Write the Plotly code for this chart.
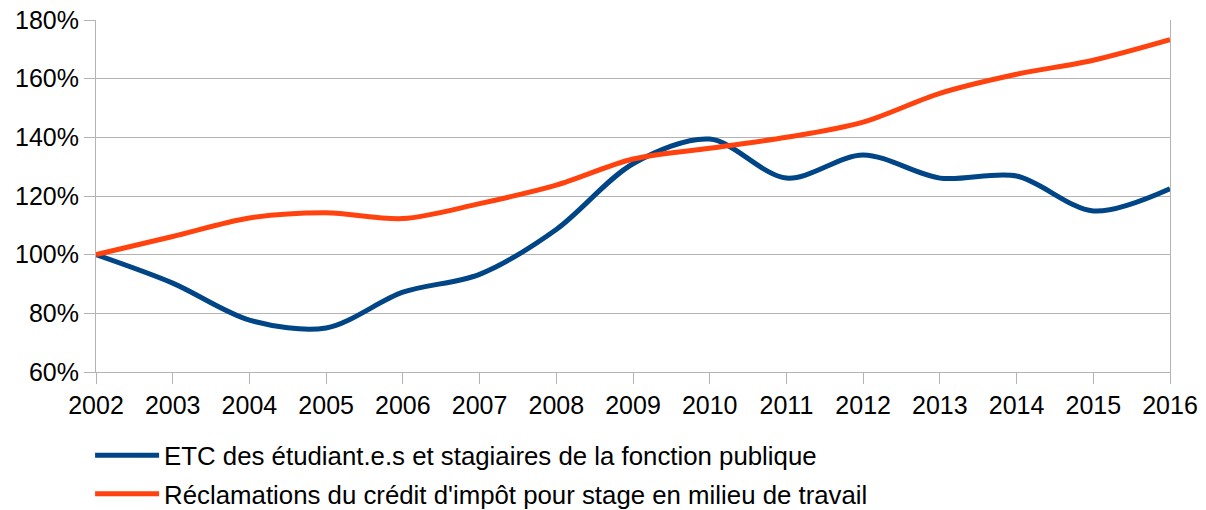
import plotly.graph_objects as go

years = list(range(2002, 2017))
etc_values = [100, 90.3, 77.7, 75.0, 87.2, 93.3, 108.6, 131.0, 139.4, 126.1, 134.0, 126.1, 126.8, 114.9, 122.5]
credit_values = [100, 106.2, 112.5, 114.3, 112.3, 117.4, 123.7, 132.6, 136.3, 140.0, 145.2, 155.0, 161.5, 166.3, 173.3]
etc_name = "ETC des étudiant.e.s et stagiaires de la fonction publique"
credit_name = "Réclamations du crédit d'impôt pour stage en milieu de travail"
y_ticks = [60, 80, 100, 120, 140, 160, 180]

fig = go.Figure()
fig.add_trace(go.Scatter(x=years, y=etc_values, name=etc_name, mode="lines", legendgroup="g1",
                         line=dict(color="#004586", width=5, shape="spline", smoothing=0.9)))
fig.add_trace(go.Scatter(x=years, y=credit_values, name=credit_name, mode="lines", legendgroup="g2",
                         line=dict(color="#ff420e", width=5, shape="spline", smoothing=0.9)))

grid = "#b3b3b3"
fig.update_layout(
    width=1206, height=510,
    margin=dict(l=96, r=36, t=20, b=138, autoexpand=False),
    plot_bgcolor="white", paper_bgcolor="white",
    font=dict(family="Liberation Sans, Arial, sans-serif", size=25, color="#000000"),
    showlegend=True,
    legend=dict(x=-0.0055, xanchor="left", y=-0.1705, yanchor="top", orientation="v",
                font=dict(family="Liberation Sans, sans-serif", size=25.8),
                itemwidth=64, tracegroupgap=2, bgcolor="rgba(0,0,0,0)"),
    xaxis=dict(range=[2002, 2016], tickmode="array", tickvals=years, ticktext=[str(y) for y in years],
               showgrid=False, showline=True, linecolor=grid, linewidth=1,
               ticks="outside", ticklen=11, tickcolor=grid, zeroline=False,
               ticklabeloverflow="allow"),
    yaxis=dict(range=[60, 180], tickmode="array", tickvals=y_ticks,
               ticktext=[f"{v}%" for v in y_ticks],
               showgrid=True, gridcolor=grid, gridwidth=1,
               showline=True, linecolor=grid, linewidth=1, mirror=True,
               ticks="outside", ticklen=11, tickcolor=grid, zeroline=False,
               ticklabeloverflow="allow"),
)
fig.write_html("out.html", config={"displayModeBar": False},
               post_script="document.body.style.margin='0';")
